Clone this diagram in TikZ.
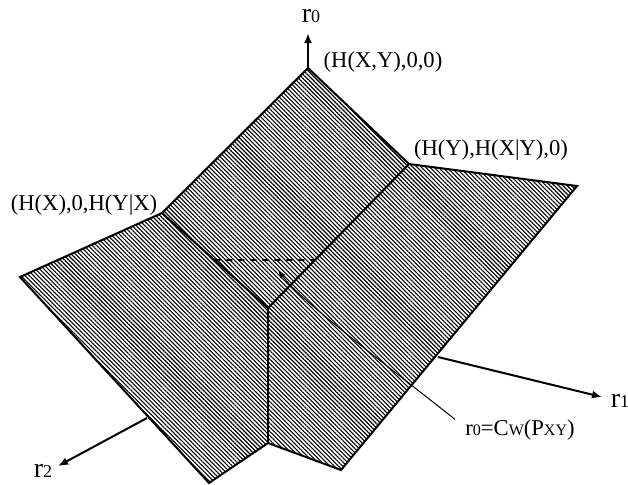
\documentclass[tikz,border=0pt]{standalone}
\usepackage{fontspec}
\setmainfont{Liberation Serif}
\usetikzlibrary{calc,patterns.meta,arrows.meta}

\newcommand{\sml}[1]{{\fontsize{8}{8}\selectfont #1}}
\newcommand{\axsub}[1]{{\fontsize{9}{9}\selectfont #1}}

\tikzset{
	face/.style={pattern={Lines[angle=-45,distance=1.5pt,line width=0.55pt]}},
	edge/.style={line width=1pt,line join=miter},
	axis/.style={line width=1pt,-{Latex[length=5pt,width=4pt]}},
	lbl/.style={inner sep=0pt,font=\fontsize{11.3}{13}\selectfont},
	axlbl/.style={inner sep=0pt,font=\fontsize{14}{15}\selectfont},
}

\begin{document}
\begin{tikzpicture}[x=0.5pt,y=-0.5pt]
				\useasboundingbox (0,0) rectangle (628,484);
				
				\coordinate (A) at (308,68);
				\coordinate (B) at (409,164);
				\coordinate (C) at (162,213);
				\coordinate (D) at (20,277);
				\coordinate (E) at (577,186);
				\coordinate (F) at (268,308);
				\coordinate (G) at (268,443);
				\coordinate (H) at (209,483);
				\coordinate (I) at (341,470);
				
				\coordinate (r0end) at (308,33);
				\coordinate (r1beg) at (438,357);
				\coordinate (r1end) at (602,397);
				\coordinate (r2beg) at (147,418);
				\coordinate (r2end) at (58,466);
				\coordinate (cwtip) at (278,270);
				
				% the three faces
				\fill[face] (A) -- (B) -- (F) -- (C) -- cycle;
				\fill[face] (C) -- (F) -- (G) -- (H) -- (D) -- cycle;
				\fill[face] (F) -- (B) -- (E) -- (I) -- (G) -- cycle;
				
				\draw[edge] (C) -- (A) -- (B) -- (E) -- (I) -- (G) -- (H) -- (D) -- cycle;
				\draw[edge] (C) -- (F) -- (B);
				\draw[edge] (F) -- (G);
				
				\draw[line width=0.9pt,dashed] ($(C)!0.495!(F)$) -- ($(B)!0.667!(F)$);
				
				\draw[axis] (A) -- (r0end);
				\draw[axis] (r1beg) -- (r1end);
				\draw[axis] (r2beg) -- (r2end);
				
				\node[axlbl] (r0) at (311,16) {r\axsub{0}};
				\node[axlbl] (r1) at (620,401) {r\axsub{1}};
				\node[axlbl] (r2) at (43,471) {r\axsub{2}};
				\node[lbl] (pA) at (383,62) {(H(X,Y),0,0)};
				\node[lbl] (pB) at (491,150) {(H(Y),H(X|Y),0)};
				\node[lbl] (pC) at (84,205) {(H(X),0,H(Y|X)};
				\node[lbl] (cw) at (520,430) {r\sml{0}=C\sml{W}(P\sml{XY})};
				
				\draw[-{Latex[length=4pt,width=3pt]},line width=0.5pt] ([xshift=-5pt]cw.north west) .. controls (380,360) and (300,300) .. (cwtip);
			\end{tikzpicture}
\end{document}
